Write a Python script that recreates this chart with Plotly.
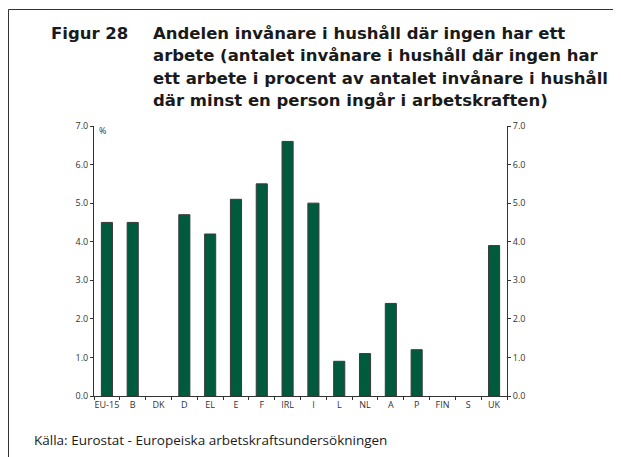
import plotly.graph_objects as go

# Data
countries = ["EU-15", "B", "DK", "D", "EL", "E", "F", "IRL", "I", "L", "NL", "A", "P", "FIN", "S", "UK"]
share = [4.5, 4.5, None, 4.7, 4.2, 5.1, 5.5, 6.6, 5.0, 0.9, 1.1, 2.4, 1.2, None, None, 3.9]
y_ticks = [0, 1, 2, 3, 4, 5, 6, 7]

# the page body has an 8px margin, so the figure is drawn 8px smaller
# and all positions below are given in page pixels
OFF = 8
W, H = 621 - OFF, 457 - OFF
L, R, T, B = 94, 507, 126, 396  # plot area in page pixels


def px_x(x):
    return (x - L) / (R - L)


def px_y(y):
    return (B - y) / (B - T)


fig = go.Figure()
fig.add_trace(go.Bar(
    x=countries, y=share,
    marker=dict(color="#005a3e", line=dict(color="#3a3a3a", width=1)),
    showlegend=False,
))
# invisible trace just to get the right-hand axis
fig.add_trace(go.Scatter(x=countries, y=[0] * len(countries), yaxis="y2",
                         mode="lines", line=dict(width=0), hoverinfo="skip",
                         showlegend=False))

tick_font = dict(family="Open Sans, Arial, sans-serif", size=9, color="#333333")

fig.update_layout(
    width=W, height=H,
    margin=dict(l=L - OFF, r=W - (R - OFF), t=T - OFF, b=H - (B - OFF)),
    paper_bgcolor="white", plot_bgcolor="white",
    bargap=0.57,
    xaxis=dict(
        showline=True, linecolor="#333333", linewidth=1,
        ticks="outside", tickson="boundaries", ticklen=3, tickcolor="#333333",
        tickfont=tick_font, tickangle=0, showgrid=False,
    ),
    yaxis=dict(
        range=[0, 7], tickvals=y_ticks, tickformat=".1f",
        showline=True, linecolor="#333333", linewidth=1,
        ticks="outside", ticklen=3, tickcolor="#333333",
        tickfont=tick_font, showgrid=False, zeroline=False,
    ),
    yaxis2=dict(
        range=[0, 7], tickvals=y_ticks, tickformat=".1f",
        overlaying="y", side="right",
        showline=True, linecolor="#333333", linewidth=1,
        ticks="outside", ticklen=3, tickcolor="#333333",
        tickfont=tick_font, showgrid=False, zeroline=False,
    ),
)

title_font = dict(family="DejaVu Sans, Arial, sans-serif", size=16.5, color="#1a1a1a")
title_lines = [
    "Andelen invånare i hushåll där ingen har ett",
    "arbete (antalet invånare i hushåll där ingen har",
    "ett arbete i procent av antalet invånare i hushåll",
    "där minst en person ingår i arbetskraften)",
]
fig.add_annotation(text="<b>Figur 28</b>", xref="paper", yref="paper",
                   x=px_x(49), y=px_y(34), xanchor="left", yanchor="middle",
                   showarrow=False, font=title_font)
for i, line in enumerate(title_lines):
    fig.add_annotation(text="<b>" + line + "</b>", xref="paper", yref="paper",
                       x=px_x(151), y=px_y(34 + 22 * i), xanchor="left", yanchor="middle",
                       showarrow=False, font=title_font)

fig.add_annotation(text="%", xref="paper", yref="paper",
                   x=px_x(97), y=px_y(131), xanchor="left", yanchor="middle",
                   showarrow=False, font=tick_font)

fig.add_annotation(text="Källa: Eurostat - Europeiska arbetskraftsundersökningen",
                   xref="paper", yref="paper", x=px_x(32), y=px_y(440),
                   xanchor="left", yanchor="middle", showarrow=False,
                   font=dict(family="Open Sans, Arial, sans-serif", size=13.5, color="#1a1a1a"))

# frame: top and left lines of the box around the figure
frame = dict(color="#333333", width=1)
fig.add_shape(type="line", xref="paper", yref="paper",
              x0=px_x(OFF + 0.5), x1=px_x(630), y0=px_y(9.5), y1=px_y(9.5), line=frame)
fig.add_shape(type="line", xref="paper", yref="paper",
              x0=px_x(OFF + 0.5), x1=px_x(OFF + 0.5), y0=px_y(9.5), y1=px_y(470), line=frame)

fig.write_html("out.html")
